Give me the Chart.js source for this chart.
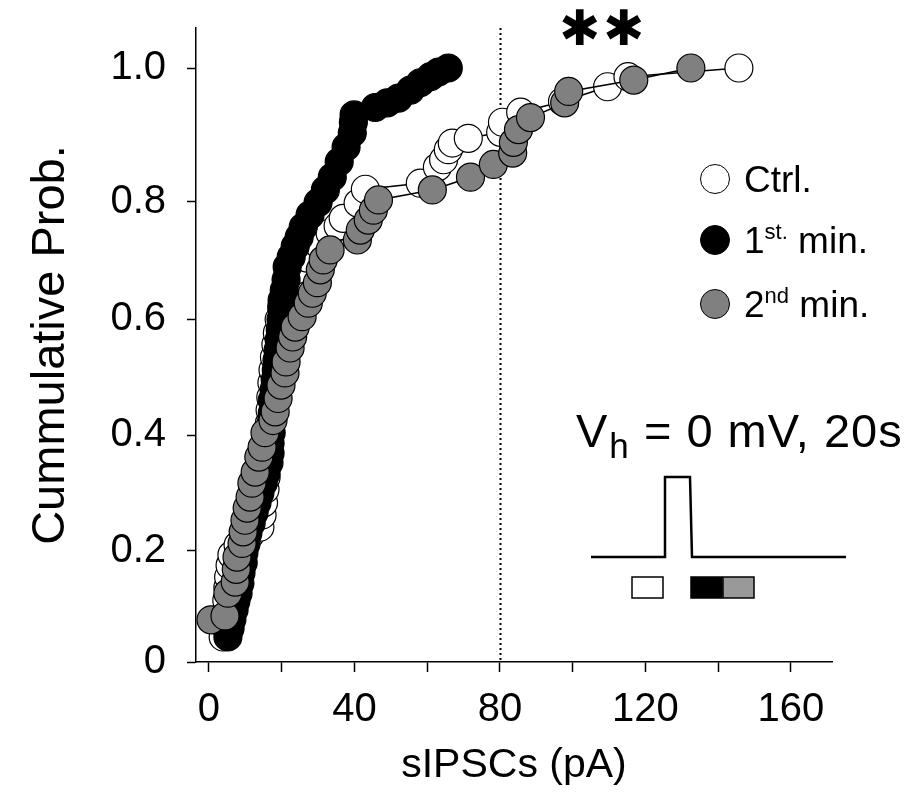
<!DOCTYPE html>
<html>
<head>
<meta charset="utf-8">
<script src="https://cdn.jsdelivr.net/npm/chart.js@4.4.1/dist/chart.umd.min.js"></script>
<style>
  body { margin: 0; background: #fff; }
  #wrap { position: relative; width: 921px; height: 807px; font-family: "Liberation Sans", Arial, sans-serif; color: #000; }
  #chart { position: absolute; left: 0; top: 0; }
  .leg { position: absolute; left: 700px; font-size: 37px; line-height: 38px; white-space: nowrap; }
  .leg .dot { display: inline-block; width: 30px; height: 30px; border-radius: 50%; border: 1.3px solid #000; box-sizing: border-box; vertical-align: middle; margin-right: 14px; position: relative; top: -3px; }
  .leg sup { font-size: 22px; line-height: 0; vertical-align: 14px; }
  #vh { position: absolute; left: 576px; top: 403px; font-size: 47px; letter-spacing: 1px; white-space: nowrap; }
  #vh sub { font-size: 35px; line-height: 0; vertical-align: -11px; margin-left: 1px; }
  #stars { position: absolute; left: 559px; top: 0px; font-family: "DejaVu Sans"; font-size: 49px; letter-spacing: 3px; }
</style>
</head>
<body>
<div id="wrap">
  <canvas id="chart" width="921" height="807"></canvas>
  <div id="stars">✱✱</div>
  <div class="leg" style="top:161px"><span class="dot" style="background:#fff"></span>Ctrl.</div>
  <div class="leg" style="top:222px"><span class="dot" style="background:#000"></span>1<sup>st.</sup> min.</div>
  <div class="leg" style="top:286px"><span class="dot" style="background:#808080"></span>2<sup>nd</sup> min.</div>
  <div id="vh">V<sub>h</sub> = 0 mV, 20s</div>
</div>
<script>
// --- data: sIPSC amplitude (pA) vs cumulative probability ---
const ctrlX = [3.9, 4.3, 4.6, 4.9, 5.2, 5.4, 5.8, 6.3, 8.0, 11.3, 14.0, 14.6, 15.0, 15.4, 15.7, 16.0, 16.2,
  16.4, 16.6, 16.8, 17.0, 17.3, 17.6, 18.0, 18.4, 18.8, 19.3, 20.0, 20.8, 22.0, 24.0, 27.0, 30.5, 33.3,
  35.5, 36.9, 41.0, 43.0, 58.1, 62.8, 64.5, 65.8, 66.9, 71.3, 80.2, 80.7, 85.7, 97.2, 109.6, 115.2, 145.7];
const ctrlY = [0.045, 0.066, 0.090, 0.111, 0.134, 0.153, 0.174, 0.193, 0.210, 0.228, 0.241, 0.262, 0.283,
  0.306, 0.327, 0.352, 0.374, 0.397, 0.420, 0.443, 0.465, 0.490, 0.512, 0.534, 0.556, 0.576, 0.599, 0.621,
  0.641, 0.662, 0.684, 0.704, 0.725, 0.747, 0.759, 0.772, 0.798, 0.819, 0.828, 0.852, 0.863, 0.878, 0.888,
  0.895, 0.904, 0.919, 0.934, 0.950, 0.972, 0.987, 1.0];

const firstX = [5.2, 5.8, 6.3, 6.9, 7.4, 8.0, 8.5, 8.8, 9.4, 9.6, 10.2, 10.7, 11.6, 12.4, 13.2, 14.0, 14.9,
  15.7, 16.5, 16.8, 16.8, 17.1, 17.1, 17.4, 17.4, 17.9, 18.2, 18.5, 18.7, 19.0, 19.3, 19.6, 19.8, 20.1,
  20.1, 20.7, 21.2, 21.5, 22.6, 23.7, 24.8, 25.9, 27.8, 30.0, 32.0, 33.9, 35.8, 37.7, 39.4, 39.7, 39.9,
  45.7, 49.0, 52.1, 55.4, 58.1, 60.9, 63.1, 65.8];
const firstY = [0.045, 0.061, 0.077, 0.094, 0.110, 0.124, 0.142, 0.161, 0.179, 0.197, 0.213, 0.231, 0.248,
  0.266, 0.283, 0.300, 0.317, 0.334, 0.352, 0.369, 0.386, 0.404, 0.420, 0.438, 0.460, 0.478, 0.495, 0.512,
  0.529, 0.546, 0.564, 0.581, 0.599, 0.616, 0.632, 0.649, 0.667, 0.689, 0.706, 0.724, 0.740, 0.757, 0.778,
  0.799, 0.818, 0.837, 0.860, 0.882, 0.903, 0.919, 0.930, 0.941, 0.948, 0.955, 0.967, 0.978, 0.987, 0.994, 1.0];

const secondX = [0.55, 4.4, 5.2, 7.2, 7.5, 7.7, 9.1, 9.4, 9.9, 10.5, 11.3, 11.8, 12.7, 13.7, 14.6, 15.4,
  17.6, 18.2, 19.0, 19.8, 20.9, 21.2, 22.3, 23.0, 23.7, 25.6, 27.3, 28.4, 29.8, 30.6, 31.4, 33.3, 40.8,
  41.6, 43.8, 45.2, 46.6, 61.4, 71.9, 78.2, 83.5, 83.7, 85.1, 88.4, 97.8, 98.9, 116.8, 132.5];
const secondY = [0.076, 0.083, 0.124, 0.144, 0.167, 0.189, 0.213, 0.233, 0.253, 0.274, 0.293, 0.317, 0.336,
  0.362, 0.379, 0.404, 0.425, 0.440, 0.463, 0.486, 0.507, 0.526, 0.550, 0.569, 0.586, 0.604, 0.627, 0.644,
  0.662, 0.684, 0.701, 0.718, 0.735, 0.752, 0.769, 0.786, 0.803, 0.818, 0.837, 0.856, 0.873, 0.889, 0.908,
  0.926, 0.948, 0.965, 0.982, 1.0];

const xTicks = [0, 20, 40, 60, 80, 100, 120, 140, 160];
const yTicks = [0, 0.2, 0.4, 0.6, 0.8, 1.0];
const cutoff = 80; // dotted line

// the original y axis is not evenly spaced: where each tick value sits, as a fraction of the axis height
const yKnotValues = [0, 0.2, 0.4, 0.6, 0.8, 1.0, 1.0673];
const yKnotFrac = [0, 0.1751, 0.3580, 0.5410, 0.7256, 0.9369, 1];

const FONT = "'Liberation Sans', Arial, sans-serif";

// linear scale that follows the uneven tick spacing of the source figure
class WarpScale extends Chart.LinearScale {
    getPixelForValue(value) {
        if (value === null || value === undefined) return NaN;
        let i = 1;
        while (i < yKnotValues.length - 1 && value > yKnotValues[i]) i++;
        const v0 = yKnotValues[i - 1], v1 = yKnotValues[i];
        const f0 = yKnotFrac[i - 1], f1 = yKnotFrac[i];
        const dec = f0 + (value - v0) / (v1 - v0) * (f1 - f0);
        return this.getPixelForDecimal(dec);
    }
    getValueForPixel(pixel) {
        const dec = this.getDecimalForPixel(pixel);
        let i = 1;
        while (i < yKnotFrac.length - 1 && dec > yKnotFrac[i]) i++;
        const f0 = yKnotFrac[i - 1], f1 = yKnotFrac[i];
        return yKnotValues[i - 1] + (dec - f0) / (f1 - f0) * (yKnotValues[i] - yKnotValues[i - 1]);
    }
}
WarpScale.id = 'warp';
WarpScale.defaults = Chart.LinearScale.defaults;
Chart.register(WarpScale);

function toPoints(xs, ys) {
    return xs.map((x, i) => ({ x: x, y: ys[i] }));
}

function makeSet(label, xs, ys, fill, order) {
    return {
        label: label,
        data: toPoints(xs, ys),
        showLine: true,
        borderColor: '#000',
        borderWidth: 1.5,
        pointRadius: 14,
        pointHoverRadius: 14,
        pointBackgroundColor: fill,
        pointBorderColor: '#000',
        pointBorderWidth: 1.2,
        order: order,
        clip: false
    };
}

// dotted line at 80 pA + the stimulation protocol sketch
const extras = {
    id: 'extras',
    beforeDatasetsDraw(chart) {
        const ctx = chart.ctx;
        const xs = chart.scales.x;
        const px = Math.round(xs.getPixelForValue(cutoff)) + 0.5;
        ctx.save();
        ctx.strokeStyle = '#000';
        ctx.lineWidth = 2;
        ctx.setLineDash([2, 3]);
        ctx.beginPath();
        ctx.moveTo(px, chart.chartArea.top);
        ctx.lineTo(px, chart.chartArea.bottom);
        ctx.stroke();
        ctx.restore();
    },
    afterDraw(chart) {
        const ctx = chart.ctx;
        ctx.save();
        ctx.strokeStyle = '#000';
        ctx.lineWidth = 2.5;
        ctx.beginPath();
        ctx.moveTo(591, 557);
        ctx.lineTo(665, 557);
        ctx.lineTo(665, 477);
        ctx.lineTo(690, 477);
        ctx.lineTo(692, 557);
        ctx.lineTo(846, 557);
        ctx.stroke();

        ctx.lineWidth = 1.5;
        const boxes = [[632, '#fff'], [691, '#000'], [723, '#999']];
        boxes.forEach(b => {
            ctx.fillStyle = b[1];
            ctx.fillRect(b[0], 577, 31, 21);
            ctx.strokeRect(b[0], 577, 31, 21);
        });
        ctx.restore();
    }
};

const ctx = document.getElementById('chart').getContext('2d');
new Chart(ctx, {
    type: 'scatter',
    data: {
        datasets: [
            makeSet('Ctrl.', ctrlX, ctrlY, '#fff', 3),
            makeSet('1st. min.', firstX, firstY, '#000', 2),
            makeSet('2nd min.', secondX, secondY, '#808080', 1)
        ]
    },
    options: {
        responsive: false,
        animation: false,
        events: [],
        layout: { padding: { left: 0, top: 28, right: 89, bottom: 0 } },
        plugins: { legend: { display: false }, tooltip: { enabled: false } },
        scales: {
            x: {
                type: 'linear',
                min: -3.57,
                max: 171.3,
                afterFit: s => { s.height = 145; s.paddingLeft = 0; s.paddingRight = 0; },
                afterBuildTicks: s => { s.ticks = xTicks.map(v => ({ value: v })); },
                border: { display: true, color: '#000', width: 1.5 },
                grid: { drawOnChartArea: false, drawTicks: true, tickLength: 10, tickColor: '#000', tickWidth: 1.5 },
                ticks: {
                    color: '#000',
                    padding: 14,
                    maxRotation: 0,
                    autoSkip: false,
                    font: { family: FONT, size: 40 },
                    callback: v => (v % 40 === 0 ? String(v) : '')
                },
                title: {
                    display: true,
                    text: 'sIPSCs (pA)',
                    color: '#000',
                    font: { family: FONT, size: 41 },
                    padding: { top: 0, bottom: 17 }
                }
            },
            y: {
                type: 'warp',
                min: 0,
                max: 1.0673,
                afterFit: s => { s.width = 196; s.paddingTop = 0; s.paddingBottom = 0; },
                afterBuildTicks: s => { s.ticks = yTicks.map(v => ({ value: v })); },
                border: { display: true, color: '#000', width: 1.5 },
                grid: { drawOnChartArea: false, drawTicks: true, tickLength: 9, tickColor: '#000', tickWidth: 1.5 },
                ticks: {
                    color: '#000',
                    padding: 21,
                    autoSkip: false,
                    font: { family: FONT, size: 40 },
                    callback: v => (v === 0 ? '0' : v.toFixed(1))
                },
                title: {
                    display: true,
                    text: 'Cummulative Prob.',
                    color: '#000',
                    font: { family: FONT, size: 47 },
                    padding: { top: 23, bottom: 0 }
                }
            }
        }
    },
    plugins: [extras]
});
</script>
</body>
</html>
